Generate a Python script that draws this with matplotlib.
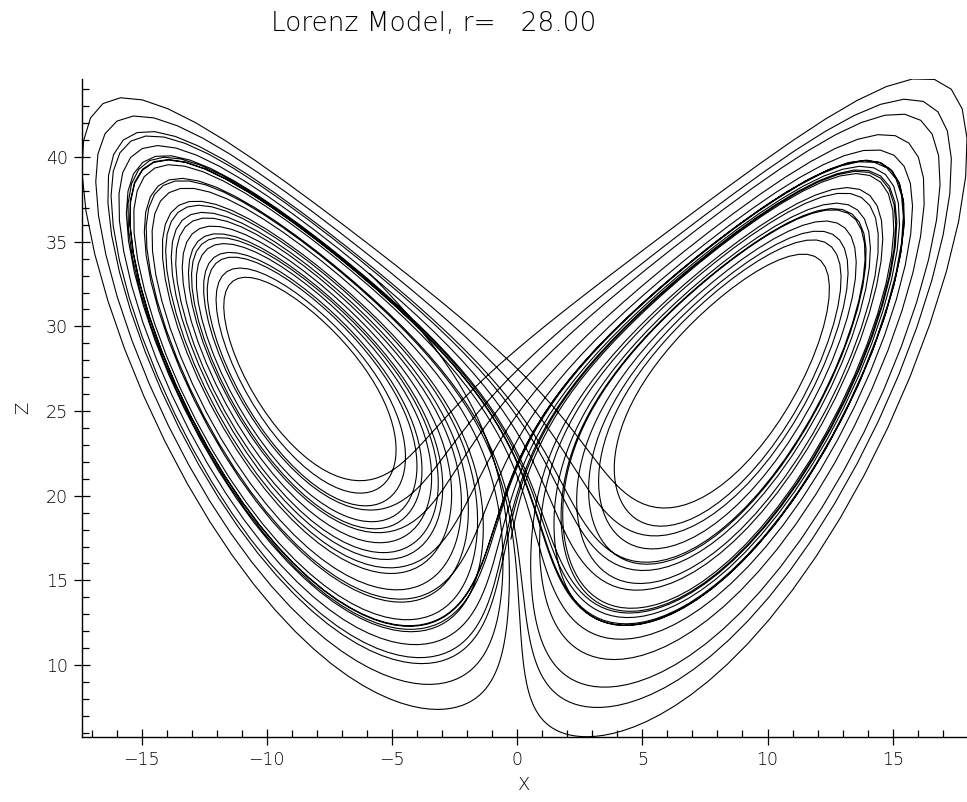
import numpy as np
import matplotlib
matplotlib.use('Agg')
import matplotlib.pyplot as plt
from matplotlib.ticker import MultipleLocator

# Lorenz model parameters (r as in the title)
sigma = 10.0
r = 28.0
b = 8.0/3.0

# start of the trajectory (free end of the curve near x=-5.9, z=33.1)
x0, y0, z0 = -5.88, 0.02, 33.1
dt = 0.01
nsteps = 3500

def lorenz(s):
    x, y, z = s
    return np.array([sigma*(y - x), r*x - y - x*z, x*y - b*z])

# RK4 integration
traj = np.empty((nsteps + 1, 3))
traj[0] = [x0, y0, z0]
for i in range(nsteps):
    s = traj[i]
    k1 = lorenz(s)
    k2 = lorenz(s + 0.5*dt*k1)
    k3 = lorenz(s + 0.5*dt*k2)
    k4 = lorenz(s + dt*k3)
    traj[i+1] = s + dt/6.0*(k1 + 2*k2 + 2*k3 + k4)

X = traj[:, 0]
Z = traj[:, 2]

plt.rcParams['font.family'] = ['DejaVu Sans']

fig = plt.figure(figsize=(9.67, 8.02), dpi=100)
ax = fig.add_axes([0.0848, 0.0814, 0.9152, 0.8201])
ax.plot(X, Z, color='black', lw=0.8)
ax.set_xlim(X.min(), X.max())
ax.set_ylim(Z.min(), Z.max())

ax.spines['top'].set_visible(False)
ax.spines['right'].set_visible(False)
ax.spines['left'].set_linewidth(1.0)
ax.spines['bottom'].set_linewidth(1.0)

ax.xaxis.set_major_locator(MultipleLocator(5))
ax.xaxis.set_minor_locator(MultipleLocator(1))
ax.yaxis.set_major_locator(MultipleLocator(5))
ax.yaxis.set_minor_locator(MultipleLocator(1))
ax.tick_params(which='major', direction='inout', length=12, width=0.9,
               labelsize=12.5, labelcolor='black', pad=4)
ax.tick_params(which='minor', direction='in', length=5, width=0.9)
for lab in ax.get_xticklabels() + ax.get_yticklabels():
    lab.set_fontweight('light')

ax.set_xlabel('X', fontsize=13, fontweight='light', labelpad=5)
ax.set_ylabel('Z', fontsize=13, fontweight='light', labelpad=10)

fig.text(0.449, 0.971, 'Lorenz Model, r=' + '%8.2f' % r, ha='center', va='center',
         fontsize=19, color='black', fontweight='light')

fig.savefig('out.png', dpi=100)
